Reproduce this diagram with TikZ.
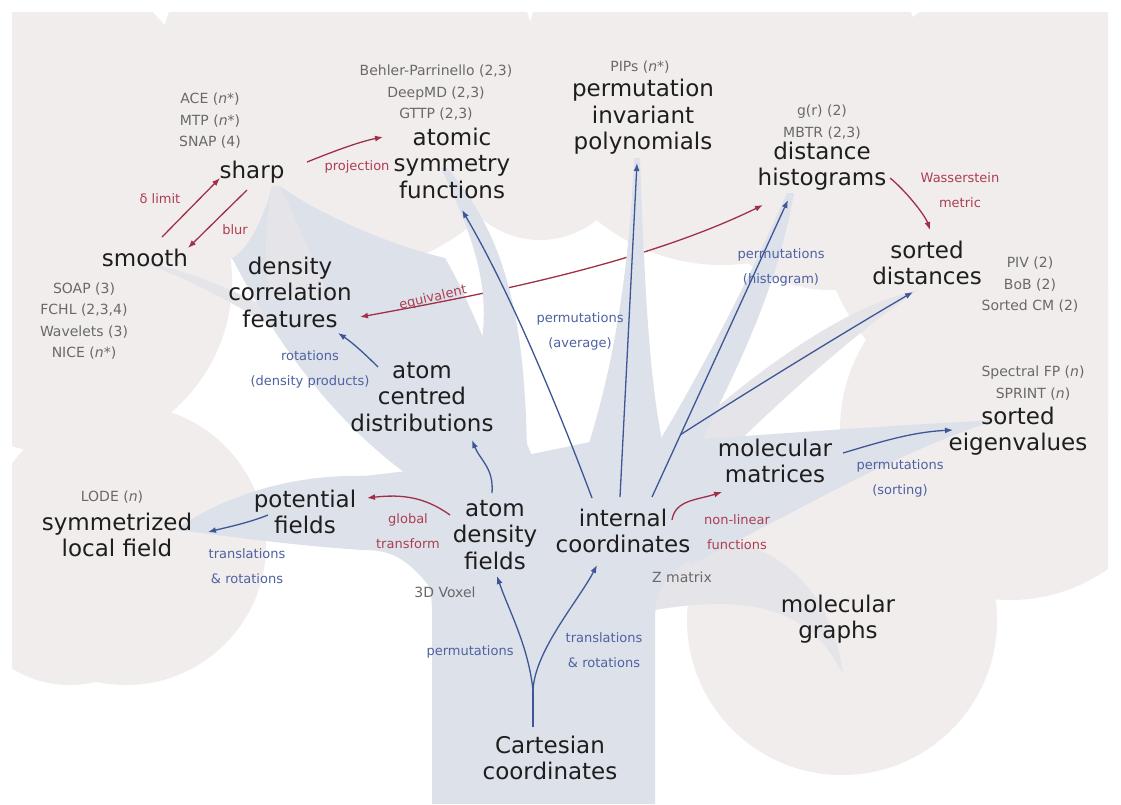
\documentclass[tikz,border=0pt]{standalone}
\usepackage{fontspec}
\setmainfont{DejaVu Sans}
\usetikzlibrary{arrows.meta,calc}
\pgfdeclarelayer{canopylayer}
\pgfdeclarelayer{lowlayer}
\pgfdeclarelayer{eqlayer}
\pgfdeclarelayer{highlayer}
\pgfsetlayers{canopylayer,lowlayer,eqlayer,highlayer,main}
\definecolor{canopy}{RGB}{242,237,237}
\definecolor{limb}{RGB}{221,225,234}
\definecolor{twig}{RGB}{229,229,233}
\definecolor{ink}{RGB}{30,30,30}
\definecolor{note}{RGB}{105,105,105}
\definecolor{blu}{RGB}{62,86,150}
\definecolor{rd}{RGB}{160,48,72}
\definecolor{blutxt}{RGB}{78,98,162}
\definecolor{rdtxt}{RGB}{172,62,82}
\begin{document}
\begin{tikzpicture}[x=1pt,y=-1pt,
  main/.style={font=\fontsize{23}{26.5}\selectfont, text=ink, align=center, inner sep=0pt},
  lst/.style={font=\fontsize{14}{21.5}\selectfont, text=note, align=center, inner sep=0pt},
  blab/.style={font=\fontsize{13}{25}\selectfont, text=blutxt, align=center, inner sep=0pt},
  rlab/.style={font=\fontsize{13}{25}\selectfont, text=rdtxt, align=center, inner sep=0pt},
  hd/.tip={Latex[length=8pt,width=6pt]},
  barr/.style={draw=blu, line width=1.3pt, -{hd}},
  rarr/.style={draw=rd, line width=1.3pt, -{hd}},
  bline/.style={draw=blu, line width=1.3pt},
]
\useasboundingbox (0,0) rectangle (1121,804);

% ---------- canopy of the tree ----------
\begin{pgfonlayer}{canopylayer}
\fill[white] (0,0) rectangle (1121,804);
\begin{scope}
  \clip (12,12) rectangle (1108,804);
  \fill[canopy] (40,130) circle[radius=163pt];
  \fill[canopy] (60,281) circle[radius=172pt];
  \fill[canopy] (126,545) circle[radius=140pt];
  \fill[canopy] (70,575) circle[radius=110pt];
  \fill[canopy] (240,215) circle[radius=45pt];
  \fill[canopy] (348,79) circle[radius=191pt];
  \fill[canopy] (540,150) circle[radius=90pt];
  \fill[canopy] (722,68) circle[radius=197pt];
  \fill[canopy] (830,150) circle[radius=140pt];
  \fill[canopy] (1040,200) circle[radius=223pt];
  \fill[canopy] (1010,430) circle[radius=170pt];
  \fill[canopy] (842,620) circle[radius=155pt];
\end{scope}
\end{pgfonlayer}

% ---------- lower branches ----------
\begin{pgfonlayer}{lowlayer}
\fill[twig] (148,262) .. controls (220,280) and (280,310) .. (340,355) -- (350,380) .. controls (290,335) and (220,292) .. (148,264) -- cycle;
\fill[twig] (655,545) .. controls (750,520) and (830,570) .. (843,675) .. controls (815,615) and (760,592) .. (655,610) -- cycle;
\fill[twig] (690,430) .. controls (770,360) and (850,305) .. (918,290) .. controls (860,330) and (790,390) .. (715,465) -- cycle;
\fill[limb] (178,528) .. controls (230,492) and (300,474) .. (365,476) -- (415,470) -- (440,600) .. controls (410,560) and (395,550) .. (363,550) .. controls (300,546) and (240,538) .. (178,530) -- cycle;
\fill[limb] (272,186) .. controls (262,225) and (245,252) .. (232,258) .. controls (285,360) and (345,430) .. (412,478) -- (540,475) .. controls (500,380) and (470,300) .. (445,258) .. controls (390,245) and (320,215) .. (280,186) -- cycle;
\fill[twig] (272,186) .. controls (265,225) and (262,260) .. (272,300) -- (330,300) .. controls (310,250) and (292,212) .. (280,186) -- cycle;
\end{pgfonlayer}

% ---------- upper branches and trunk ----------
\begin{pgfonlayer}{highlayer}
\fill[limb] (441,168) .. controls (470,230) and (490,280) .. (482,340) -- (470,460) -- (540,470) -- (527,453) .. controls (525,330) and (510,240) .. (447,168) -- cycle;
\fill[limb] (634,158) .. controls (628,300) and (605,400) .. (580,470) -- (662,470) -- (662,440) .. controls (650,380) and (645,300) .. (640,158) -- cycle;
\fill[limb] (787,193) .. controls (740,300) and (690,390) .. (660,440) -- (690,470) -- (700,445) .. controls (730,380) and (775,300) .. (794,193) -- cycle;
\fill[limb] (690,440) .. controls (800,432) and (900,425) .. (997,420) .. controls (900,450) and (800,510) .. (690,565) -- cycle;
\fill[limb] (432,804) -- (432,612) .. controls (432,590) and (428,575) .. (410,560) -- (405,478) -- (470,440) -- (527,455) -- (600,440) -- (690,440) -- (710,520) -- (690,560) .. controls (665,575) and (655,590) .. (655,620) -- (655,804) -- cycle;
\end{pgfonlayer}

% ---------- representations ----------
\node[main] (sharp) at (252,172) {sharp};
\node[main] (smooth) at (145,258) {smooth};
\node[main] (asf) at (452,163) {atomic\\symmetry\\functions};
\node[main] (pip) at (643,117) {permutation\\invariant\\polynomials};
\node[main] (dh) at (822,166) {distance\\histograms};
\node[main] (sd) at (927,263) {sorted\\distances};
\node[main] (dcf) at (290,292) {density\\correlation\\features};
\node[main] (acd) at (422,397) {atom\\centred\\distributions};
\node[main] (pf) at (305,512) {potential\\fields};
\node[main] (slf) at (117,535) {symmetrized\\local field};
\node[main] (adf) at (495,535) {atom\\density\\fields};
\node[main] (ic) at (623,531) {internal\\coordinates};
\node[main] (mm) at (775,461) {molecular\\matrices};
\node[main] (se) at (1018,431) {sorted\\eigenvalues};
\node[main] (mg) at (838,619) {molecular\\graphs};
\node[main] (cart) at (550,758) {Cartesian\\coordinates};

% ---------- method lists ----------
\node[lst] (ace) at (210,121) {ACE (\textit{n}*)\\MTP (\textit{n}*)\\SNAP (4)};
\node[lst] (bp) at (436,93) {Behler-Parrinello (2,3)\\DeepMD (2,3)\\GTTP (2,3)};
\node[lst] (pips) at (640,67) {PIPs (\textit{n}*)};
\node[lst] (gr) at (822,122) {g(r) (2)\\MBTR (2,3)};
\node[lst] (piv) at (1030,285) {PIV (2)\\BoB (2)\\Sorted CM (2)};
\node[lst] (sfp) at (1033,383) {Spectral FP (\textit{n})\\SPRINT (\textit{n})};
\node[lst] (soap) at (84,321) {SOAP (3)\\FCHL (2,3,4)\\Wavelets (3)\\NICE (\textit{n}*)};
\node[lst] (lode) at (112,497) {LODE (\textit{n})};
\node[lst] (voxel) at (445,592) {3D Voxel};
\node[lst] (zmat) at (682,577) {Z matrix};

% ---------- transformation labels ----------
\node[blab] (lpavg) at (580,331) {permutations\\(average)};
\node[blab] (lrot) at (310,369) {rotations\\(density products)};
\node[blab] (lphist) at (781,267) {permutations\\(histogram)};
\node[blab] (lpsort) at (900,478) {permutations\\(sorting)};
\node[blab] (ltr1) at (247,566) {translations\\\& rotations};
\node[blab] (lperm) at (470,652) {permutations};
\node[blab] (ltr2) at (604,650) {translations\\\& rotations};
\node[rlab] (ldel) at (160,199) {δ limit};
\node[rlab] (lblur) at (235,230) {blur};
\node[rlab] (lproj) at (357,167) {projection};
\node[rlab, rotate=13] (leq) at (433,298) {equivalent};
\node[rlab] (lwass) at (960,190) {Wasserstein\\metric};
\node[rlab] (lglob) at (408,531) {global\\transform};
\node[rlab] (lnon) at (737,532) {non-linear\\functions};

% the equivalence runs beneath the upper branches
\begin{pgfonlayer}{eqlayer}
\draw[rarr, {hd}-{hd}] ($(dcf)+(70,25)$) .. controls +(120,-22) and +(-123,60) .. ($(dh)+(-59,39)$);
\end{pgfonlayer}

% ---------- red connectors ----------
\draw[rarr] ($(smooth)+(17,-21)$) -- ($(sharp)+(-32,6)$);
\draw[rarr] ($(sharp)+(-5,18)$) -- ($(smooth)+(43,-10)$);
\draw[rarr] ($(sharp)+(55,-10)$) .. controls +(25,-10) and +(-25,5) .. ($(asf)+(-69,-26)$);
\draw[rarr] ($(dh)+(68,12)$) .. controls +(15,12) and +(-5,-15) .. ($(sd)+(3,-33)$);
\draw[rarr] ($(adf)+(-45,-20)$) .. controls +(-25,-18) and +(35,-4) .. ($(pf)+(62,-14)$);
\draw[rarr] ($(ic)+(49,-11)$) .. controls +(3,-20) and +(-25,8) .. ($(mm)+(-53,31)$);

% ---------- blue connectors ----------
\coordinate (stub) at ($(cart)+(-17,-31)$);
\coordinate (fork) at ($(cart)+(-17,-68)$);
\draw[bline] (stub) -- (fork);
\draw[barr] (fork) .. controls +(-5,-45) and +(12,35) .. ($(adf)+(2,41)$);
\draw[barr] (fork) .. controls +(2,-40) and +(-18,35) .. ($(ic)+(-26,34)$);
\draw[barr] ($(adf)+(-3,-42)$) .. controls +(2,-25) and +(8,20) .. ($(acd)+(50,43)$);
\draw[barr] ($(acd)+(-44,-30)$) .. controls +(-12,-12) and +(15,10) .. ($(dcf)+(48,41)$);
\draw[barr] ($(pf)+(-37,3)$) .. controls +(-20,8) and +(20,-5) .. ($(slf)+(91,-3)$);
\draw[barr] ($(ic)+(-31,-33)$) .. controls +(-30,-80) and +(50,85) .. ($(asf)+(10,47)$);
\draw[barr] ($(ic)+(-3,-34)$) -- ($(pip)+(-6,46)$);
\draw[barr] ($(ic)+(29,-34)$) -- coordinate[pos=0.21] (split) ($(dh)+(-34,34)$);
\draw[barr] (split) .. controls +(70,-45) and +(-60,35) .. ($(sd)+(-14,29)$);
\draw[barr] ($(mm)+(68,-8)$) .. controls +(40,-12) and +(-40,2) .. ($(se)+(-65,-1)$);
\end{tikzpicture}
\end{document}
